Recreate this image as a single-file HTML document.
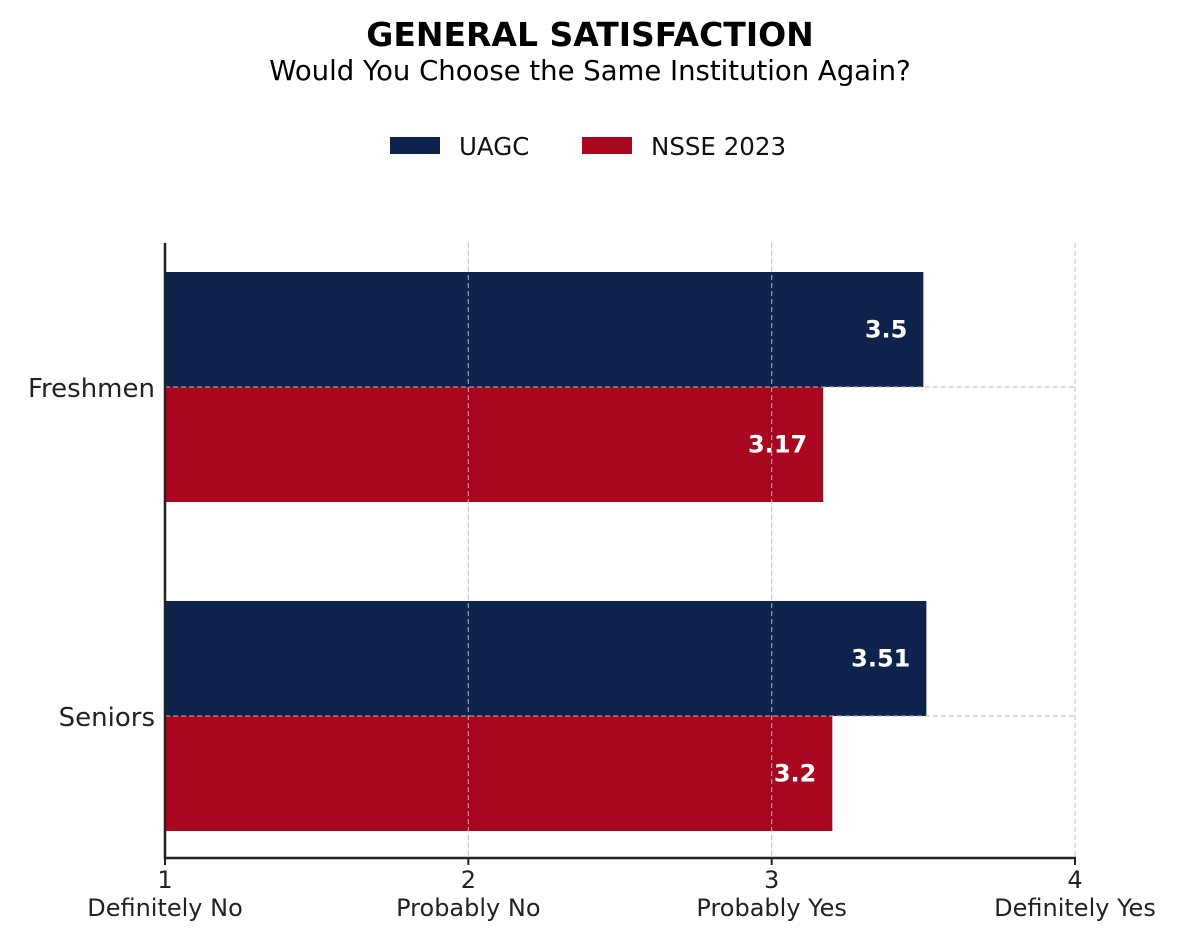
<!DOCTYPE html>
<html><head><meta charset="utf-8"><style>
html,body{margin:0;padding:0;background:#fff;}
svg{display:block;font-family:"DejaVu Sans","Liberation Sans",sans-serif;}
</style></head><body>
<svg id="chart" width="1180" height="941" viewBox="0 0 1180 941">
<text x="590" y="46" text-anchor="middle" font-size="33" font-weight="bold" fill="#000">GENERAL SATISFACTION</text>
<text x="590" y="80" text-anchor="middle" font-size="27.5" fill="#000">Would You Choose the Same Institution Again?</text>
<g>
<rect x="390" y="137" width="50" height="17" fill="#0d234b"/>
<text x="459" y="155" font-size="24.5" fill="#111">UAGC</text>
<rect x="582" y="137" width="50" height="17" fill="#a8071f"/>
<text x="651" y="155" font-size="24.5" fill="#111">NSSE 2023</text>
</g>
<g id="plot"></g>
</svg>
<script>
const categories = ["Freshmen", "Seniors"];
const uagcValues = [3.5, 3.51];
const nsseValues = [3.17, 3.2];
const tickValues = [1, 2, 3, 4];
const tickLabels = ["Definitely No", "Probably No", "Probably Yes", "Definitely Yes"];

(function(){
const NS = "http://www.w3.org/2000/svg";
const g = document.getElementById("plot");
const x0 = 165, x1 = 1075, xmin = 1, xmax = 4;
const plotTop = 243, plotBottom = 858;
const catCenters = [387, 716];
const barH = 115;
function xs(v){ return x0 + (v - xmin) / (xmax - xmin) * (x1 - x0); }
function yc(i){ return catCenters[0] + i * (catCenters[1] - catCenters[0]); }
function mk(tag, attrs){ const e = document.createElementNS(NS, tag); for (const k in attrs) e.setAttribute(k, attrs[k]); g.appendChild(e); return e; }

const series = [{vals: uagcValues, color: "#0d234b", name: "uagc", off: -1}, {vals: nsseValues, color: "#a8071f", name: "nsse", off: 0}];
series.forEach(s => {
  s.vals.forEach((v, i) => {
    const yTop = yc(i) + s.off * barH;
    const r = mk("rect", {x: xs(xmin), y: yTop, width: xs(v) - xs(xmin), height: barH, fill: s.color});
    
    
    const t = mk("text", {x: xs(v) - 16, y: yTop + barH / 2 + 8, "text-anchor": "end", "font-size": "24", "font-weight": "bold", fill: "#fff"});
    t.textContent = String(v);
    
    
  });
});
tickValues.slice(1).forEach(v => {
  const l = mk("line", {x1: xs(v), x2: xs(v), y1: plotTop, y2: plotBottom, stroke: "#bbb", "stroke-width": 1.2, "stroke-dasharray": "5,3", opacity: 0.8});
  
  
});
categories.forEach((c, i) => {
  const l = mk("line", {x1: x0, x2: x1, y1: yc(i), y2: yc(i), stroke: "#bbb", "stroke-width": 1.2, "stroke-dasharray": "5,3", opacity: 0.8});
  
  
  const t = mk("text", {x: 155, y: yc(i) + 10, "text-anchor": "end", "font-size": "26", fill: "#222"});
  t.textContent = c;
  
  
});
let sp = mk("line", {x1: x0, x2: x0, y1: plotTop, y2: plotBottom + 1, stroke: "#222", "stroke-width": 2.5});


sp = mk("line", {x1: x0 - 1, x2: x1 + 1, y1: plotBottom, y2: plotBottom, stroke: "#222", "stroke-width": 2.5});


tickValues.forEach((v, i) => {
  const tk = mk("line", {x1: xs(v), x2: xs(v), y1: plotBottom, y2: plotBottom + 7, stroke: "#222", "stroke-width": 2});
  
  
  const t = mk("text", {x: xs(v), y: 888, "text-anchor": "middle", "font-size": "24", fill: "#222"});
  t.textContent = String(v);
  
  
  const t2 = mk("text", {x: xs(v), y: 916, "text-anchor": "middle", "font-size": "24", fill: "#222"});
  t2.textContent = tickLabels[i];
  
  
});
})();
</script>
</body></html>
